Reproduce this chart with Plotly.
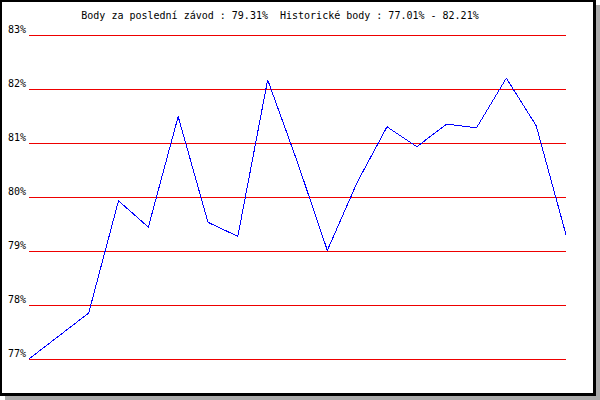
import plotly.graph_objects as go

# Data
races = list(range(19))
points = [77.01, 77.44, 77.86, 79.94, 79.45, 81.50, 79.54, 79.28, 82.18, 80.65,
          79.02, 80.28, 81.31, 80.94, 81.36, 81.29, 82.21, 81.33, 79.31]
y_ticks = [77, 78, 79, 80, 81, 82, 83]
y_labels = [f"{v}%" for v in y_ticks]
title_text = "Body za poslední závod : 79.31%  Historické body : 77.01% - 82.21%"

W, H = 600, 400
L, R, T, B = 29, 34, 35, 40
PW, PH = W - L - R, H - T - B

def px(x):
    return (x - L) / PW

def py(y):
    return (H - B - y) / PH

FONT = "DejaVu Sans Mono"
GRID = "#ee0000"

# pad the y range by half a pixel so 1px lines fall on pixel centres
span = max(y_ticks) - min(y_ticks)
half = 0.5 * span / (PH - 1)
yrange = [min(y_ticks) - half, max(y_ticks) + half]

fig = go.Figure()
fig.add_trace(go.Scatter(x=races, y=points, mode="lines",
                         line=dict(color="#0000ff", width=1),
                         hoverinfo="skip", showlegend=False))

# frame with drop shadow
shapes = [
    dict(type="rect", xref="paper", yref="paper", layer="below",
         x0=px(5), x1=px(600), y0=py(5), y1=py(400),
         fillcolor="#aaaaaa", line=dict(width=0)),
    dict(type="rect", xref="paper", yref="paper", layer="below",
         x0=px(0), x1=px(596), y0=py(0), y1=py(396),
         fillcolor="#000000", line=dict(width=0)),
    dict(type="rect", xref="paper", yref="paper", layer="below",
         x0=px(2), x1=px(593), y0=py(2), y1=py(393),
         fillcolor="#ffffff", line=dict(width=0)),
]
# horizontal grid lines at the y tick values
for v in y_ticks:
    shapes.append(dict(type="line", xref="paper", yref="y", layer="below",
                       x0=0, x1=1, y0=v, y1=v,
                       line=dict(color=GRID, width=1)))

fig.update_layout(
    template="none",
    width=W, height=H,
    margin=dict(l=L, r=R, t=T, b=B, pad=0),
    paper_bgcolor="#ffffff",
    plot_bgcolor="rgba(0,0,0,0)",
    font=dict(family=FONT, size=10, color="#000000"),
    shapes=shapes,
    title=dict(text=title_text, x=280 / W, xanchor="center",
               y=1 - 15 / H, yanchor="middle",
               font=dict(family=FONT, size=10, color="#000000")),
    xaxis=dict(range=[0, 18], visible=False, showgrid=False, zeroline=False),
    yaxis=dict(range=yrange, tickmode="array", tickvals=y_ticks, ticktext=y_labels,
               showgrid=False, zeroline=False, showline=False, ticks="",
               ticklabelstandoff=2, ticklabelshift=-6,
               tickfont=dict(family=FONT, size=10, color="#000000")),
)

post = (
    "document.body.style.margin='0';"
    "document.querySelectorAll('.scatterlayer path.js-line, .shapelayer path')"
    ".forEach(function(p){p.style.shapeRendering='crispEdges';});"
)
fig.write_html("out.html", config={"displayModeBar": False}, post_script=post)
